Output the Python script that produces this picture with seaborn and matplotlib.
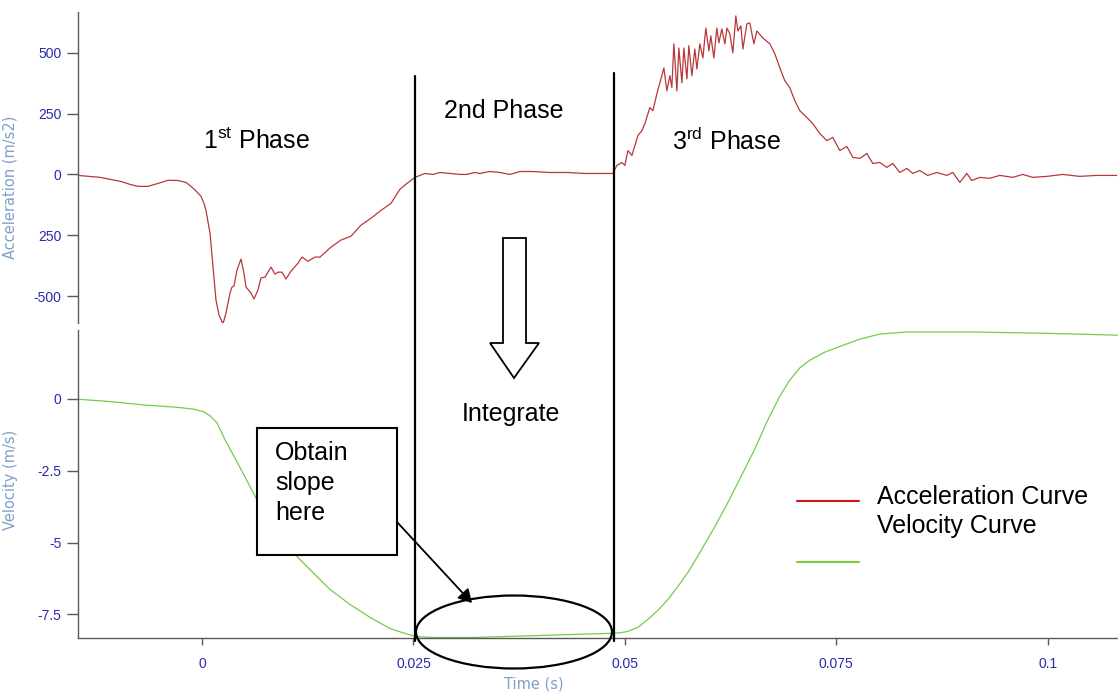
import numpy as np
import pandas as pd
import matplotlib
matplotlib.use("Agg")
import matplotlib.pyplot as plt
import seaborn as sns
from matplotlib.lines import Line2D
from matplotlib.patches import Ellipse, Polygon, Rectangle, FancyArrowPatch

# ---------------- data ----------------
acc_time_ms = [
    -14.66, -12.06, -9.57, -8.51, -7.56, -6.38, -5.20, -4.02, -2.84, -1.89, -1.30, -0.71, -0.12,
    0.24, 0.47, 0.95, 1.30, 1.65, 2.01, 2.48,
    2.84, 3.31, 3.55, 3.78, 4.14, 4.61, 4.96, 5.20, 5.79, 6.15, 6.62, 6.97, 7.45, 8.16, 8.63,
    8.98, 9.46, 9.93, 10.52, 11.35, 11.82, 12.53, 13.36, 13.95, 15.25, 16.43, 17.61, 18.79,
    19.98, 21.16, 22.34, 23.40, 24.23, 25.18, 26.36,
    27.30, 28.13, 29.31, 30.50, 31.32, 32.27, 32.86, 34.04, 35.22, 36.41, 37.59, 39.12, 41.13,
    43.14, 45.27, 47.04, 48.58,
    49.05, 49.64, 50.00, 50.35, 50.83, 51.18, 51.54, 52.01, 52.36, 52.95, 53.31, 53.78, 54.37,
    54.61, 54.96, 55.32, 55.55, 55.79, 56.15, 56.38, 56.74, 56.97, 57.33, 57.56, 57.92, 58.27,
    58.51, 58.86, 59.22, 59.57, 59.93, 60.16, 60.52, 60.87, 61.11, 61.46, 61.82, 62.06, 62.41,
    62.76, 63.12, 63.36, 63.71, 63.95, 64.42, 64.77, 65.25, 65.60, 66.31, 67.14, 67.73, 68.32,
    68.91, 69.50, 70.09, 70.68, 71.51, 72.22, 73.05, 73.88, 74.58, 75.41, 76.24, 76.95, 77.78,
    78.60, 79.31, 80.14, 80.97, 81.68, 82.50, 83.33, 84.04, 84.87, 85.81, 86.88, 88.06, 88.77,
    89.60, 90.42, 91.01, 91.96, 93.14, 94.32, 95.86, 97.04, 98.22, 99.88, 101.77, 103.78,
    105.79, 108.15,
]
acc_values = [
    -4, -12, -29, -41, -49, -49, -37, -24, -25, -33, -49, -68, -90,
    -119, -148, -242, -381, -516, -578, -615,
    -570, -488, -463, -459, -393, -348, -406, -463, -488, -512, -475, -426, -422, -381, -410,
    -402, -402, -430, -398, -365, -340, -357, -340, -340, -299, -270, -254, -209,
    -180, -148, -119, -61, -37, -12, 4,
    0, 8, 4, 0, 0, 8, 4, 12, 8, 0, 12, 12, 8,
    8, 4, 4, 4,
    37, 49, 37, 98, 78, 119, 160, 180, 209, 275, 262, 332, 406,
    438, 344, 406, 357, 537, 344, 520, 377, 520, 393, 529, 406, 516,
    434, 537, 479, 602, 508, 570, 479, 602, 541, 598, 537, 602, 578,
    500, 652, 590, 611, 516, 619, 623, 537, 590, 561, 537, 496, 438,
    385, 357, 303, 262, 234, 209, 168, 139, 152, 98, 115, 70, 66,
    86, 45, 49, 29, 45, 8, 25, 4, 16, -4, 8, -4, 8,
    -33, 4, -25, -12, -16, -4, -12, 0, -12, -8, 0, -8,
    -4, -4,
]

vel_time_ms = [
    -14.66, -10.87, -6.86, -2.96, -0.83, 0.24, 0.95, 1.77, 2.72, 4.14, 5.32, 6.50, 8.04,
    10.40, 12.77, 15.13, 17.49, 19.86, 22.22, 23.99, 25.18, 26.95, 32.39, 40.19, 48.11,
    49.41, 50.35, 51.54, 52.72, 53.90, 55.08, 56.26, 57.45, 58.86, 60.64, 62.17, 63.71,
    65.36, 66.90, 68.32, 69.50, 70.68, 71.87, 73.64, 75.53, 77.78, 80.14, 83.33, 91.13,
    99.05, 108.27,
]
vel_values = [
    -0.01, -0.09, -0.21, -0.29, -0.36, -0.45, -0.59, -0.83, -1.42, -2.19, -2.85, -3.51, -4.20,
    -5.24, -5.94, -6.63, -7.15, -7.60, -7.99, -8.16, -8.26, -8.30, -8.30, -8.23, -8.16,
    -8.14, -8.09, -7.95, -7.67, -7.36, -6.98, -6.53, -6.04, -5.35, -4.44, -3.61, -2.71,
    -1.74, -0.73, 0.10, 0.66, 1.08, 1.35, 1.63, 1.84, 2.08, 2.26, 2.33, 2.33,
    2.29, 2.22,
]

acc_ticks = [500, 250, 0, -250, -500]
acc_tick_labels = ["500", "250", "0", "250", "-500"]
vel_ticks = [0, -2.5, -5, -7.5]
vel_tick_labels = ["0", "-2.5", "-5", "-7.5"]
time_ticks = [0, 0.025, 0.05, 0.075, 0.1]
time_tick_labels = ["0", "0.025", "0.05", "0.075", "0.1"]
phase_bounds = [0.0252, 0.0487]

acc_df = pd.DataFrame({"Time (s)": np.array(acc_time_ms) / 1000.0, "Acceleration": acc_values})
vel_df = pd.DataFrame({"Time (s)": np.array(vel_time_ms) / 1000.0, "Velocity": vel_values})

# ---------------- style ----------------
sns.set_style("white")
plt.rcParams["font.family"] = ["Liberation Sans", "DejaVu Sans"]
plt.rcParams["mathtext.fontset"] = "custom"
plt.rcParams["mathtext.rm"] = "Liberation Sans"
plt.rcParams["mathtext.it"] = "Liberation Sans:italic"

W, H = 1118, 693
fig = plt.figure(figsize=(W / 100, H / 100), dpi=100)


def fx(px):
    return px / W


def fy(py):
    return 1 - py / H


ax_top = fig.add_axes([fx(78), fy(323), fx(1118) - fx(78), fy(12) - fy(323)])
ax_bot = fig.add_axes([fx(78), fy(638), fx(1118) - fx(78), fy(330) - fy(638)])

red = "#b8373a"
green = "#74cc4c"
tick_lab_col = "#2a2aa8"
axis_lab_col = "#7f9fc8"
spine_col = "#5a5a5a"

sns.lineplot(data=acc_df, x="Time (s)", y="Acceleration", ax=ax_top, color=red, linewidth=0.9)
sns.lineplot(data=vel_df, x="Time (s)", y="Velocity", ax=ax_bot, color=green, linewidth=0.9)

xlim = (-0.01466, 0.1083)
for ax in (ax_top, ax_bot):
    ax.set_xlim(*xlim)
    ax.set_facecolor("none")
    for s in ("top", "right"):
        ax.spines[s].set_visible(False)
    ax.spines["left"].set_color(spine_col)
    ax.spines["left"].set_linewidth(1.0)
    ax.tick_params(axis="y", direction="out", length=8, width=1, color=spine_col,
                   labelsize=10, labelcolor=tick_lab_col, pad=4, left=True)

ax_top.set_ylim(-611, 668)
ax_top.spines["bottom"].set_visible(False)
ax_top.set_yticks(acc_ticks)
ax_top.set_yticklabels(acc_tick_labels)
ax_top.set_xticks([])
ax_top.set_xlabel("")
ax_top.set_ylabel("Acceleration (m/s2)", color=axis_lab_col, fontsize=10.5, family="DejaVu Sans")
ax_top.yaxis.set_label_coords(-0.0577, 0.437)

ax_bot.set_ylim(-8.32, 2.4)
ax_bot.spines["bottom"].set_color(spine_col)
ax_bot.spines["bottom"].set_linewidth(1.0)
ax_bot.set_yticks(vel_ticks)
ax_bot.set_yticklabels(vel_tick_labels)
ax_bot.set_xticks(time_ticks)
ax_bot.set_xticklabels(time_tick_labels)
ax_bot.tick_params(axis="x", direction="out", length=5, width=1, color=spine_col,
                   labelsize=10, labelcolor=tick_lab_col, pad=9, bottom=True)
ax_bot.set_ylabel("Velocity (m/s)", color=axis_lab_col, fontsize=10.5, family="DejaVu Sans")
ax_bot.yaxis.set_label_coords(-0.0577, 0.513)
ax_bot.set_xlabel("Time (s)", color=axis_lab_col, fontsize=10.5, family="DejaVu Sans")
ax_bot.xaxis.set_label_coords(0.438, (638 - 684) / 308)
ax_bot.xaxis.label.set_va("center")

# ---------------- annotations ----------------
inv = fig.transFigure.inverted()
for xb, top_py in zip(phase_bounds, [76, 73]):
    xd = ax_bot.transData.transform((xb, 0))[0]
    xf = inv.transform((xd, 0))[0]
    fig.add_artist(Line2D([xf, xf], [fy(top_py), fy(641)], color="black", linewidth=1.6,
                          transform=fig.transFigure))

txt_kw = dict(fontsize=18, color="black", transform=fig.transFigure, ha="center", va="center")
fig.text(fx(257), fy(141), r"1$^{\mathrm{st}}$ Phase", **txt_kw)
fig.text(fx(504), fy(111), "2nd Phase", **txt_kw)
fig.text(fx(727), fy(141), r"3$^{\mathrm{rd}}$ Phase", **txt_kw)
fig.text(fx(511), fy(414), "Integrate", **txt_kw)

# hollow down arrow
arrow_px = [(503, 238), (526, 238), (526, 343), (539, 343), (514, 378), (490, 343), (503, 343)]
fig.add_artist(Polygon([(fx(x), fy(y)) for x, y in arrow_px], closed=True, facecolor="white",
                       edgecolor="black", linewidth=1.3, transform=fig.transFigure))

# box with text
fig.add_artist(Rectangle((fx(257), fy(555)), fx(397) - fx(257), fy(428) - fy(555),
                         facecolor="white", edgecolor="black", linewidth=1.5,
                         transform=fig.transFigure))
fig.text(fx(275), fy(441), "Obtain\nslope\nhere", fontsize=18, color="black",
         transform=fig.transFigure, ha="left", va="top", linespacing=1.32)

# pointer arrow
fig.add_artist(FancyArrowPatch((fx(397), fy(522)), (fx(472), fy(603)),
                               arrowstyle="-|>,head_length=8,head_width=4.5",
                               color="black", linewidth=1.3, transform=fig.transFigure,
                               shrinkA=0, shrinkB=0))

# ellipse
fig.add_artist(Ellipse((fx(514), fy(632)), fx(196), 73 / H, facecolor="none",
                       edgecolor="black", linewidth=1.6, transform=fig.transFigure))

# legend (manual)
fig.add_artist(Line2D([fx(797), fx(859)], [fy(501), fy(501)], color="#cc1a1a", linewidth=1.5,
                      transform=fig.transFigure))
fig.add_artist(Line2D([fx(797), fx(859)], [fy(562), fy(562)], color="#7ccc3a", linewidth=1.5,
                      transform=fig.transFigure))
fig.text(fx(877), fy(497), "Acceleration Curve", fontsize=18, color="black",
         transform=fig.transFigure, ha="left", va="center")
fig.text(fx(877), fy(526), "Velocity Curve", fontsize=18, color="black",
         transform=fig.transFigure, ha="left", va="center")

fig.savefig("out.png", dpi=100)
